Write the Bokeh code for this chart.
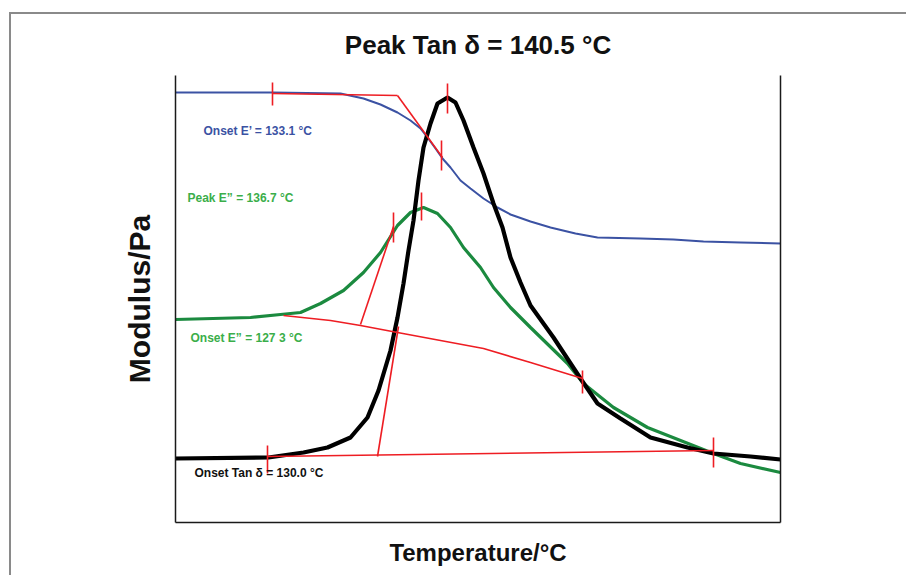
from bokeh.plotting import figure
from bokeh.models import Range1d, LinearAxis, FixedTicker, Label
from bokeh.embed import file_html
from bokeh.resources import INLINE

# ---- data (temperature in deg C, modulus in arbitrary units) ----
eprime_T = [110.0, 119.7, 126.5, 128.8, 130.5, 132.2, 133.5, 134.5, 135.2, 136.0, 136.7, 137.5,
            138.5, 139.5, 140.8, 142.2, 143.5, 145.5, 147.5, 150.0, 152.2, 156.5, 159.8, 162.8,
            166.5, 170.5]
eprime_M = [43.0, 43.0, 42.9, 42.4, 41.8, 41.0, 40.2, 39.4, 38.5, 37.4, 36.4, 35.5,
            34.2, 33.4, 32.4, 31.5, 30.8, 30.1, 29.5, 28.9, 28.5, 28.4, 28.3, 28.1,
            28.0, 27.9]

edouble_T = [110.0, 117.5, 120.5, 122.5, 124.5, 126.8, 128.8, 130.5, 132.2, 133.5, 134.8, 136.2,
             137.5, 138.8, 140.5, 141.8, 143.5, 145.5, 149.2, 150.8, 153.8, 157.2, 160.5, 163.8,
             166.5, 170.5]
edouble_M = [20.3, 20.5, 20.8, 21.0, 21.9, 23.2, 25.0, 27.0, 29.7, 31.0, 31.5, 30.9,
             29.5, 27.5, 25.5, 23.5, 21.5, 19.5, 15.9, 13.9, 11.5, 9.5, 8.2, 6.9,
             5.9, 5.0]

tand_T = [110.0, 119.3, 122.8, 125.2, 127.5, 129.2, 130.3, 131.5, 132.2, 132.8, 133.3, 133.8,
          134.3, 134.8, 135.5, 136.2, 137.2, 138.0, 138.8, 139.8, 140.8, 141.8, 142.7, 143.5,
          144.5, 145.5, 147.8, 150.5, 152.2, 154.5, 157.5, 161.2, 163.8, 167.5, 170.5]
tand_M = [6.4, 6.5, 7.0, 7.5, 8.5, 10.5, 13.2, 17.2, 20.5, 23.9, 27.2, 30.2,
          34.2, 37.5, 39.9, 41.9, 42.5, 42.0, 40.2, 37.5, 34.9, 31.9, 29.5, 26.5,
          24.0, 21.7, 18.5, 14.4, 11.9, 10.4, 8.5, 7.5, 6.9, 6.6, 6.3]

# construction (baseline / tangent) lines
fit_T = [[119.7, 132.2], [132.2, 136.7],
         [120.8, 125.5, 128.5, 132.2, 140.8, 145.5, 150.7], [128.5, 131.8],
         [119.2, 163.8], [130.2, 132.3]]
fit_M = [[42.9, 42.7], [42.7, 36.5],
         [20.7, 20.2, 19.7, 19.0, 17.4, 16.0, 14.4], [19.8, 29.6],
         [6.6, 7.2], [6.6, 19.6]]

# analysis markers
mark_T = [119.7, 137.2, 136.6, 131.8, 134.6, 150.7, 163.8, 119.2]
mark_lo = [41.7, 40.9, 35.2, 28.0, 30.2, 12.9, 5.5, 4.9]
mark_hi = [44.0, 43.9, 38.2, 31.0, 33.0, 15.2, 8.5, 7.7]

title_text = "Peak Tan δ = 140.5 °C"
x_label = "Temperature/°C"
y_label = "Modulus/Pa"
notes = ["Onset E’ = 133.1 °C", "Peak E” = 136.7 °C", "Onset E” = 127 3 °C", "Onset Tan δ = 130.0 °C"]

BLUE = "#3b52a3"
GREEN = "#1b8a3f"
GREEN_TXT = "#3aae4a"
RED = "#ee1d23"
FONT = "Liberation Sans"

p = figure(frame_width=605, frame_height=447,
           x_range=Range1d(110, 170.5), y_range=Range1d(0, 44.7),
           output_backend="svg", toolbar_location=None,
           min_border_left=164, min_border_right=128, min_border_top=61, min_border_bottom=55,
           background_fill_color="white", border_fill_color="white")
p.styles = {"margin-left": "11px", "margin-top": "14px",
            "box-shadow": "-2px -2px 0 0 #8a8a8a"}
p.grid.visible = False
p.outline_line_color = None

p.title.text = title_text
p.title.align = "center"
p.title.vertical_align = "top"
p.title.text_font = FONT
p.title.text_font_size = "26px"
p.title.text_font_style = "bold"
p.title.text_color = "#111111"
p.title.standoff = 28


def style_axis(ax):
    ax.ticker = FixedTicker(ticks=[])
    ax.major_tick_line_color = None
    ax.minor_tick_line_color = None
    ax.major_label_text_font_size = "0px"
    ax.axis_line_color = "#1a1a1a"
    ax.axis_line_width = 1.5
    ax.axis_label_text_font = FONT
    ax.axis_label_text_font_style = "bold"
    ax.axis_label_text_color = "#111111"


style_axis(p.xaxis[0])
style_axis(p.yaxis[0])
p.xaxis[0].axis_label = x_label
p.xaxis[0].axis_label_text_font_size = "24px"
p.xaxis[0].axis_label_standoff = 16
p.yaxis[0].axis_label = y_label
p.yaxis[0].axis_label_text_font_size = "30px"
p.yaxis[0].axis_label_standoff = 20

right_ax = LinearAxis()
style_axis(right_ax)
p.add_layout(right_ax, "right")

p.line(eprime_T, eprime_M, line_color=BLUE, line_width=2)
p.line(edouble_T, edouble_M, line_color=GREEN, line_width=3.2)
p.line(tand_T, tand_M, line_color="black", line_width=4.2)
p.multi_line(fit_T, fit_M, line_color=RED, line_width=1.6)
p.segment(x0=mark_T, y0=mark_lo, x1=mark_T, y1=mark_hi, line_color=RED, line_width=1.6)

note_pos = [(112.8, 39.2), (111.2, 32.5), (111.5, 18.5), (111.9, 5.0)]
note_col = [BLUE, GREEN_TXT, GREEN_TXT, "#111111"]
for t, (x, y), c in zip(notes, note_pos, note_col):
    p.add_layout(Label(x=x, y=y, text=t, text_font=FONT, text_font_size="12px",
                       text_font_style="bold", text_color=c, text_baseline="middle",
                       text_align="left"))

open("out.html", "w").write(file_html(p, INLINE))
